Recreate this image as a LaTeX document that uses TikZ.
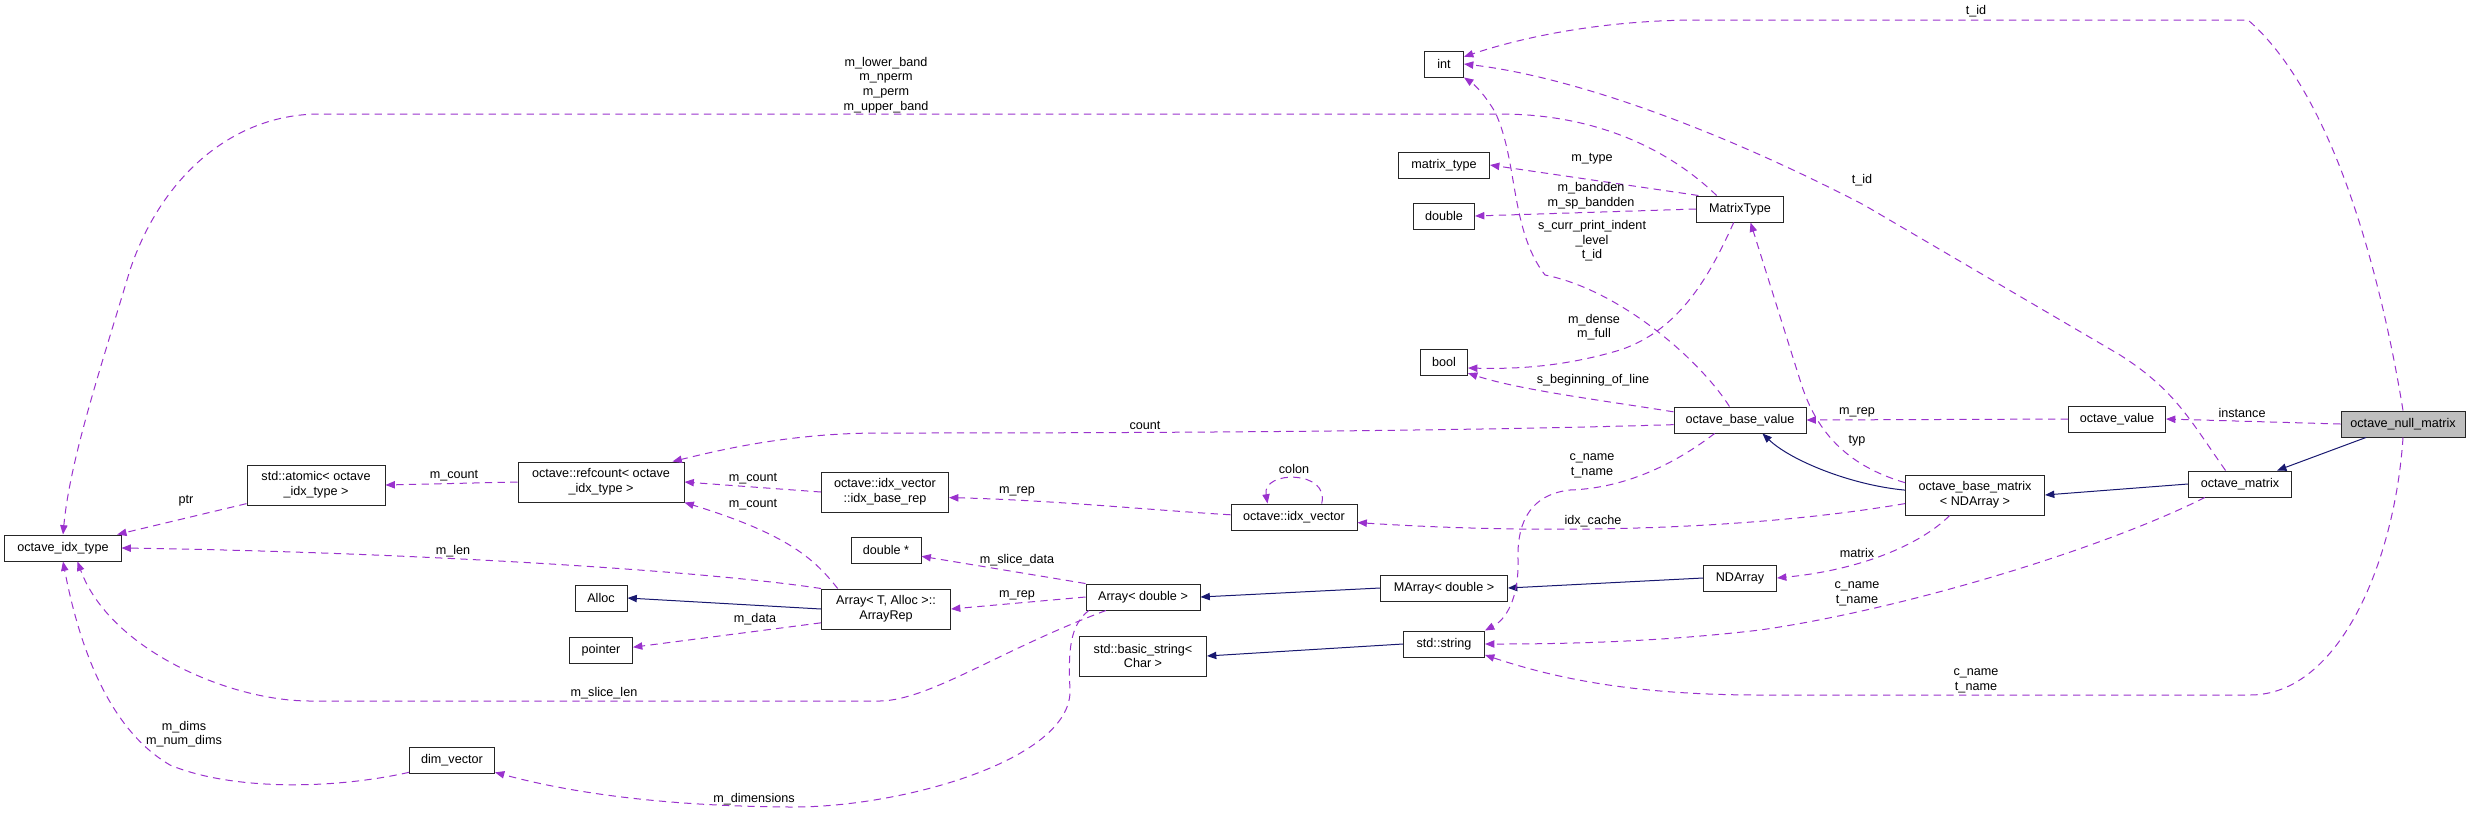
\documentclass[tikz,border=0pt]{standalone}
\usepackage{fontspec}
\setmainfont{Liberation Sans}
\usetikzlibrary{arrows.meta}
\definecolor{usecol}{RGB}{154,50,205}
\definecolor{isacol}{RGB}{25,25,112}
\definecolor{thisgray}{RGB}{191,191,191}
\begin{document}
\begin{tikzpicture}[x=0.75bp, y=-0.75bp,
    cls/.style={draw=black!85, line width=0.75bp, rectangle, minimum height=19.5bp, inner sep=1bp, align=center, font=\fontsize{9.5}{11}\selectfont},
    cls2/.style={cls, minimum height=30bp},
    lbl/.style={inner sep=0pt, align=center, font=\fontsize{9.5}{11}\selectfont},
    uses/.style={draw=usecol, line width=0.75bp, dash pattern=on 5.5bp off 4bp, -{Triangle[length=7bp,width=5.5bp]}},
    isa/.style={draw=isacol, line width=0.75bp, -{Triangle[length=7bp,width=5.5bp]}}]
    \useasboundingbox (0,0) rectangle (2477,814);

    \node[cls, fill=thisgray, minimum width=93bp] (null) at (2403,424) {octave\_null\_matrix};
    \node[cls, minimum width=72.75bp] (value) at (2117,419) {octave\_value};
    \node[cls, minimum width=77.25bp] (matrix) at (2240,484) {octave\_matrix};
    \node[cls2, minimum width=104.25bp] (basematrix) at (1975,495) {octave\_base\_matrix\\< NDArray >};
    \node[cls, minimum width=99bp] (basevalue) at (1740,420) {octave\_base\_value};
    \node[cls, minimum width=65.25bp] (mtype) at (1740,209) {MatrixType};
    \node[cls, minimum width=54.75bp] (ndarray) at (1740,578) {NDArray};
    \node[cls, minimum width=29.25bp] (int) at (1444,64) {int};
    \node[cls, minimum width=68.25bp] (matrixtype) at (1444,165) {matrix\_type};
    \node[cls, minimum width=45.75bp] (double) at (1444,216) {double};
    \node[cls, minimum width=35.25bp] (bool) at (1444,362) {bool};
    \node[cls, minimum width=94.5bp] (idxvec) at (1294,517) {octave::idx\_vector};
    \node[cls, minimum width=95.25bp] (marray) at (1444,588) {MArray< double >};
    \node[cls, minimum width=60.75bp] (string) at (1444,644) {std::string};
    \node[cls, minimum width=85.5bp] (arrdouble) at (1143,597) {Array< double >};
    \node[cls2, minimum width=95.25bp] (basicstr) at (1143,656) {std::basic\_string<\\Char >};
    \node[cls, minimum width=52.5bp] (doubleptr) at (886,550) {double *};
    \node[cls2, minimum width=96.75bp] (arrayrep) at (886,609) {Array< T, Alloc >::\\ArrayRep};
    \node[cls2, minimum width=95.25bp] (idxrep) at (885,492) {octave::idx\_vector\\::idx\_base\_rep};
    \node[cls2, minimum width=124.5bp] (refcount) at (601,482) {octave::refcount< octave\\\_idx\_type >};
    \node[cls, minimum width=39bp] (alloc) at (601,598) {Alloc};
    \node[cls, minimum width=47.25bp] (pointer) at (601,650) {pointer};
    \node[cls2, minimum width=103.5bp] (atomic) at (316,485) {std::atomic< octave\\\_idx\_type >};
    \node[cls, minimum width=87bp] (idxtype) at (63,548) {octave\_idx\_type};
    \node[cls, minimum width=63.75bp] (dimvec) at (452,760) {dim\_vector};

    \draw[isa] (null.200) -- (matrix.20);
    \draw[isa] (matrix.west) -- (basematrix.east);
    \draw[isa] (basematrix.176) .. controls (1850,485) and (1790,460) .. (basevalue.-31);
    \draw[isa] (ndarray.west) -- (marray.east);
    \draw[isa] (marray.west) -- (arrdouble.east);
    \draw[isa] (arrayrep.west) -- (alloc.east);
    \draw[isa] (string.west) -- (basicstr.east);

    \draw[uses] (null.west) -- (value.east);
    \node[lbl] (l_instance) at (2242,413) {instance};
    \draw[uses] (null.north) .. controls (2385,300) and (2340,100) .. (2248,20) -- (1700,20) .. controls (1600,20) and (1520,38) .. (int.20);
    \node[lbl] (l_tidtop) at (1976,11) {t\_id};
    \draw[uses] (null.south) .. controls (2395,560) and (2340,695) .. (2250,695) -- (1760,695) .. controls (1640,695) and (1560,680) .. (string.-15);
    \node[lbl] (l_namebot) at (1976,681) {c\_name\\t\_name};
    \draw[uses] (matrix.137) .. controls (2190,420) and (2175,390) .. (2120,355) -- (1864,205) .. controls (1700,120) and (1560,75) .. (int.east);
    \node[lbl] (l_tidmid) at (1862,180) {t\_id};
    \draw[uses] (matrix.201) .. controls (2100,550) and (1900,610) .. (1760,630) .. controls (1650,643) and (1550,644) .. (string.east);
    \node[lbl] (l_namemat) at (1857,594) {c\_name\\t\_name};
    \draw[uses] (basematrix.219) .. controls (1920,545) and (1860,570) .. (ndarray.east);
    \node[lbl] (l_matrix) at (1857,553) {matrix};
    \draw[uses] (basematrix.187) .. controls (1750,530) and (1550,535) .. (idxvec.-5);
    \node[lbl] (l_idxcache) at (1593,521) {idx\_cache};
    \draw[uses] (basematrix.170) .. controls (1845,465) and (1815,430) .. (1800,380) -- (mtype.-52);
    \node[lbl] (l_typ) at (1857,441) {typ};
    \draw[uses] (value.west) -- (basevalue.east);
    \node[lbl] (l_mrepval) at (1857,412) {m\_rep};
    \draw[uses] (basevalue.128) .. controls (1700,360) and (1620,290) .. (1545,275) .. controls (1510,230) and (1518,160) .. (1495,112) .. controls (1485,95) and (1475,85) .. (int.south east);
    \node[lbl] (l_indent) at (1592,241) {s\_curr\_print\_indent\\\_level\\t\_id};
    \draw[uses] (mtype.-115) .. controls (1710,275) and (1680,330) .. (1620,350) .. controls (1560,368) and (1510,369) .. (bool.-14);
    \node[lbl] (l_dense) at (1594,327) {m\_dense\\m\_full};
    \draw[uses] (mtype.162) -- (matrixtype.east);
    \node[lbl] (l_mtype) at (1592,159) {m\_type};
    \draw[uses] (mtype.west) -- (double.east);
    \node[lbl] (l_bandden) at (1591,196) {m\_bandden\\m\_sp\_bandden};
    \draw[uses] (mtype.150) .. controls (1680,160) and (1610,114) .. (1500,114) -- (320,114) .. controls (230,114) and (160,180) .. (130,270) .. controls (100,370) and (70,460) .. (idxtype.north);
    \node[lbl] (l_band) at (886,85) {m\_lower\_band\\m\_nperm\\m\_perm\\m\_upper\_band};
    \draw[uses] (basevalue.184) .. controls (1400,433) and (1000,433) .. (880,433) .. controls (790,433) and (720,450) .. (refcount.16);
    \node[lbl] (l_count) at (1145,425) {count};
    \draw[uses] (basevalue.173) .. controls (1600,400) and (1520,390) .. (bool.-25);
    \node[lbl] (l_beginning) at (1593,380) {s\_beginning\_of\_line};
    \draw[uses] (basevalue.208) .. controls (1680,460) and (1630,488) .. (1570,490) .. controls (1525,495) and (1517,530) .. (1518,560) .. controls (1519,600) and (1505,620) .. (string.north east);
    \node[lbl] (l_namebase) at (1592,466) {c\_name\\t\_name};
    \draw[uses] (idxvec.26) .. controls (1330,470) and (1262,470) .. (idxvec.153);
    \node[lbl] (l_colon) at (1294,469) {colon};
    \draw[uses] (idxvec.178) .. controls (1150,510) and (1050,500) .. (idxrep.-5);
    \node[lbl] (l_mrepidx) at (1017,491) {m\_rep};
    \draw[uses] (idxrep.west) -- (refcount.east);
    \node[lbl] (l_countidx) at (753,479) {m\_count};
    \draw[uses] (refcount.west) -- (atomic.east);
    \node[lbl] (l_countref) at (454,476) {m\_count};
    \draw[uses] (atomic.195) -- (idxtype.14);
    \node[lbl] (l_ptr) at (186,501) {ptr};
    \draw[uses] (arrayrep.157) .. controls (815,560) and (790,535) .. (refcount.south east);
    \node[lbl] (l_countrep) at (753,505) {m\_count};
    \draw[uses] (arrayrep.north west) .. controls (700,570) and (400,552) .. (idxtype.east);
    \node[lbl] (l_len) at (453,551) {m\_len};
    \draw[uses] (arrayrep.192) -- (pointer.5);
    \node[lbl] (l_data) at (755,619) {m\_data};
    \draw[uses] (arrdouble.north west) -- (doubleptr.-10);
    \node[lbl] (l_slicedata) at (1017,560) {m\_slice\_data};
    \draw[uses] (arrdouble.west) -- (arrayrep.east);
    \node[lbl] (l_mreparr) at (1017,595) {m\_rep};
    \draw[uses] (arrdouble.200) .. controls (1000,650) and (930,700) .. (880,701) -- (310,701) .. controls (230,701) and (110,650) .. (idxtype.-43);
    \node[lbl] (l_slicelen) at (604,693) {m\_slice\_len};
    \draw[uses] (arrdouble.194) .. controls (1070,625) and (1068,650) .. (1070,690) .. controls (1072,760) and (900,808) .. (790,807) .. controls (650,806) and (560,790) .. (dimvec.-16);
    \node[lbl] (l_dimensions) at (754,799) {m\_dimensions};
    \draw[uses] (dimvec.196) .. controls (330,790) and (230,790) .. (170,765) .. controls (110,730) and (80,650) .. (idxtype.south);
    \node[lbl] (l_dims) at (184,734) {m\_dims\\m\_num\_dims};
\end{tikzpicture}
\end{document}
